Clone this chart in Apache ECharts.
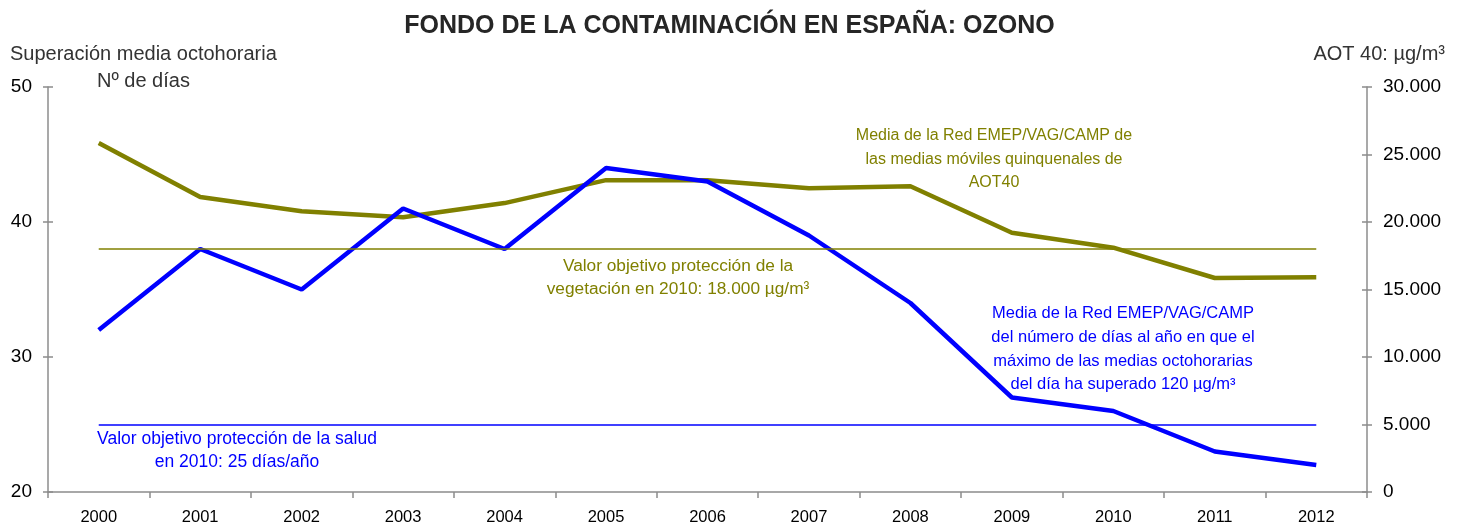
<!DOCTYPE html>
<html>
<head>
<meta charset="utf-8">
<script src="https://cdn.jsdelivr.net/npm/echarts@6/dist/echarts.min.js"></script>
<style>
  html, body { margin: 0; padding: 0; background: #fff; }
  #chart { width: 1459px; height: 526px; }
</style>
</head>
<body>
<div id="chart"></div>
<script>
// Years on the category axis
const years = ['2000','2001','2002','2003','2004','2005','2006','2007','2008','2009','2010','2011','2012'];
// Days per year on which the 8-hour mean maximum exceeded 120 µg/m³ (left axis)
const diasSuperacion = [32, 38, 35, 41, 38, 44, 43, 39, 34, 27, 26, 23, 22];
// Five-year moving average of AOT40, µg/m³·h (right axis)
const aot40 = [25850, 21850, 20800, 20350, 21400, 23100, 23100, 22500, 22650, 19200, 18100, 15850, 15900];
// Target values
const objetivoSalud = 25;        // days/year
const objetivoVegetacion = 18000; // µg/m³

const OLIVE = '#808000';
const BLUE = '#0000ff';
const AXIS = '#8c8c8c';
const FONT = '"Liberation Sans", Arial, sans-serif';

const chart = echarts.init(document.getElementById('chart'));

const fmtThousands = v => String(v).replace(/\B(?=(\d{3})+(?!\d))/g, '.');

const grid = { left: 48, right: 92, top: 87, bottom: 34 };

function valueAxis(opts) {
  return Object.assign({
    type: 'value',
    splitLine: { show: false },
    axisLine: { show: true, onZero: false, lineStyle: { color: AXIS, width: 1.5 } },
    axisTick: { show: true, length: 5, lineStyle: { color: AXIS, width: 1.5 } },
    axisLabel: { color: '#000', fontSize: 19, fontFamily: FONT, margin: 16 }
  }, opts);
}

chart.setOption({
  animation: false,
  backgroundColor: '#fff',
  textStyle: { fontFamily: FONT },
  title: {
    text: 'FONDO DE LA CONTAMINACIÓN EN ESPAÑA: OZONO',
    left: 'center', top: 9,
    textStyle: { fontSize: 25, fontWeight: 'bold', color: '#262626', fontFamily: FONT }
  },
  grid: grid,
  xAxis: {
    type: 'category',
    data: years,
    boundaryGap: true,
    axisLine: { lineStyle: { color: AXIS, width: 1.5 } },
    axisTick: { show: true, length: 6, lineStyle: { color: AXIS, width: 1.5 } },
    axisLabel: { color: '#000', fontSize: 16.5, fontFamily: FONT, margin: 17 }
  },
  yAxis: [
    valueAxis({ min: 20, max: 50, interval: 10, position: 'left' }),
    valueAxis({ min: 0, max: 30000, interval: 5000, position: 'right',
      axisLabel: { color: '#000', fontSize: 19, fontFamily: FONT, margin: 16, formatter: fmtThousands } }),
    // inner halves of the tick marks, so ticks cross the axis lines
    valueAxis({ min: 20, max: 50, interval: 10, position: 'left',
      axisLine: { show: false }, axisLabel: { show: false },
      axisTick: { show: true, inside: true, length: 5, lineStyle: { color: AXIS, width: 1.5 } } }),
    valueAxis({ min: 0, max: 30000, interval: 5000, position: 'right',
      axisLine: { show: false }, axisLabel: { show: false },
      axisTick: { show: true, inside: true, length: 5, lineStyle: { color: AXIS, width: 1.5 } } })
  ],
  series: [
    {
      name: 'AOT40',
      type: 'line',
      yAxisIndex: 1,
      data: aot40,
      symbol: 'none',
      lineStyle: { color: OLIVE, width: 4.5 },
      z: 3,
      markLine: {
        silent: true, symbol: 'none', label: { show: false },
        lineStyle: { color: OLIVE, width: 1.5, type: 'solid' },
        data: [[
          { coord: [years[0], objetivoVegetacion] },
          { coord: [years[years.length - 1], objetivoVegetacion] }
        ]]
      }
    },
    {
      name: 'Días',
      type: 'line',
      yAxisIndex: 0,
      data: diasSuperacion,
      symbol: 'none',
      lineStyle: { color: BLUE, width: 4.5 },
      z: 4,
      markLine: {
        silent: true, symbol: 'none', label: { show: false },
        lineStyle: { color: BLUE, width: 1.5, type: 'solid' },
        data: [[
          { coord: [years[0], objetivoSalud] },
          { coord: [years[years.length - 1], objetivoSalud] }
        ]]
      }
    }
  ],
  graphic: [
    { type: 'text', left: 10, top: 44,
      style: { text: 'Superación media octohoraria', font: '20px ' + FONT, fill: '#333' } },
    { type: 'text', left: 97, top: 71,
      style: { text: 'Nº de días', font: '20px ' + FONT, fill: '#333' } },
    { type: 'text', right: 14, top: 44,
      style: { text: 'AOT 40: µg/m³', font: '20px ' + FONT, fill: '#333' } },
    { type: 'text', x: 994, y: 124,
      style: { text: 'Media de la Red EMEP/VAG/CAMP de\nlas medias móviles quinquenales de\nAOT40',
        font: '16px ' + FONT, fill: OLIVE, align: 'center', lineHeight: 23.5 } },
    { type: 'text', x: 678, y: 255,
      style: { text: 'Valor objetivo protección de la\nvegetación en 2010: 18.000 µg/m³',
        font: '17.3px ' + FONT, fill: OLIVE, align: 'center', lineHeight: 22.5 } },
    { type: 'text', x: 1123, y: 302,
      style: { text: 'Media de la Red EMEP/VAG/CAMP\ndel número de días al año en que el\nmáximo de las medias octohorarias\ndel día ha superado 120 µg/m³',
        font: '16.5px ' + FONT, fill: BLUE, align: 'center', lineHeight: 23.7 } },
    { type: 'text', x: 237, y: 427,
      style: { text: 'Valor objetivo protección de la salud\nen 2010: 25 días/año',
        font: '17.5px ' + FONT, fill: BLUE, align: 'center', lineHeight: 23.5 } }
  ]
});
</script>
</body>
</html>
